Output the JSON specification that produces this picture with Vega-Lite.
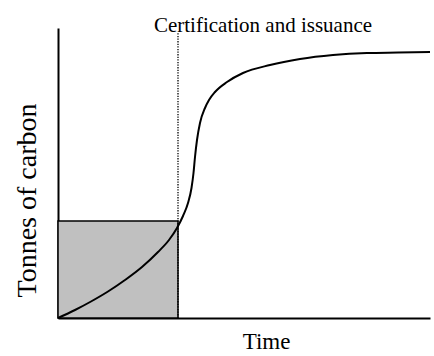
{
  "$schema": "https://vega.github.io/schema/vega-lite/v6.json",
  "width": 372,
  "height": 290,
  "autosize": {"type": "none"},
  "padding": {"left": 58, "top": 28, "right": 4, "bottom": 38},
  "background": "white",
  "config": {
    "view": {"stroke": null},
    "font": "Liberation Serif",
    "axis": {"grid": false, "ticks": false, "labels": false, "domainColor": "black", "domainWidth": 2, "titleFont": "Liberation Serif", "titleFontWeight": "normal", "titleColor": "black"}
  },
  "datasets": {
    "curve": [
      {"t": 0, "c": 0},
      {"t": 17, "c": 8},
      {"t": 33, "c": 16.5},
      {"t": 50, "c": 26.5},
      {"t": 67, "c": 38},
      {"t": 84, "c": 51},
      {"t": 100, "c": 66},
      {"t": 111, "c": 78},
      {"t": 119, "c": 90},
      {"t": 125, "c": 102},
      {"t": 130, "c": 115},
      {"t": 133.5, "c": 130},
      {"t": 135.5, "c": 145},
      {"t": 137, "c": 161},
      {"t": 139, "c": 178},
      {"t": 142, "c": 195},
      {"t": 147, "c": 210},
      {"t": 151, "c": 218},
      {"t": 157, "c": 226},
      {"t": 169, "c": 236},
      {"t": 185, "c": 245},
      {"t": 212, "c": 253},
      {"t": 242, "c": 259},
      {"t": 275, "c": 263},
      {"t": 309, "c": 265},
      {"t": 340, "c": 265.5},
      {"t": 372, "c": 266}
    ]
  },
  "layer": [
    {
      "data": {"values": [{"x0": 0, "x1": 120, "y0": 0, "y1": 97}]},
      "mark": {"type": "rect", "fill": "#c0c0c0", "stroke": "black", "strokeWidth": 1.5},
      "encoding": {
        "x": {"field": "x0", "type": "quantitative", "scale": {"domain": [0, 372], "nice": false}, "axis": {"title": "Time", "titleFontSize": 23, "titleX": 208, "titleY": 30, "titleBaseline": "alphabetic", "titleAlign": "center"}},
        "x2": {"field": "x1"},
        "y": {"field": "y0", "type": "quantitative", "scale": {"domain": [0, 290], "nice": false}, "axis": {"title": "Tonnes of carbon", "titleFontSize": 28, "titleAngle": -90, "titleX": -23, "titleY": 172, "titleBaseline": "alphabetic", "titleAlign": "center"}},
        "y2": {"field": "y1"}
      }
    },
    {
      "data": {"values": [{"x": 120, "ya": 0, "yb": 286}]},
      "mark": {"type": "rule", "color": "black", "strokeWidth": 1.3, "strokeDash": [1.3, 1.3]},
      "encoding": {
        "x": {"field": "x", "type": "quantitative"},
        "y": {"field": "ya", "type": "quantitative"},
        "y2": {"field": "yb"}
      }
    },
    {
      "data": {"name": "curve"},
      "mark": {"type": "line", "color": "black", "strokeWidth": 2, "interpolate": "monotone"},
      "encoding": {
        "x": {"field": "t", "type": "quantitative"},
        "y": {"field": "c", "type": "quantitative"}
      }
    },
    {
      "data": {"values": [{"x": 205, "y": 286, "label": "Certification and issuance"}]},
      "mark": {"type": "text", "font": "Liberation Serif", "fontSize": 21, "color": "black", "align": "center", "baseline": "alphabetic"},
      "encoding": {
        "x": {"field": "x", "type": "quantitative"},
        "y": {"field": "y", "type": "quantitative"},
        "text": {"field": "label"}
      }
    }
  ]
}
